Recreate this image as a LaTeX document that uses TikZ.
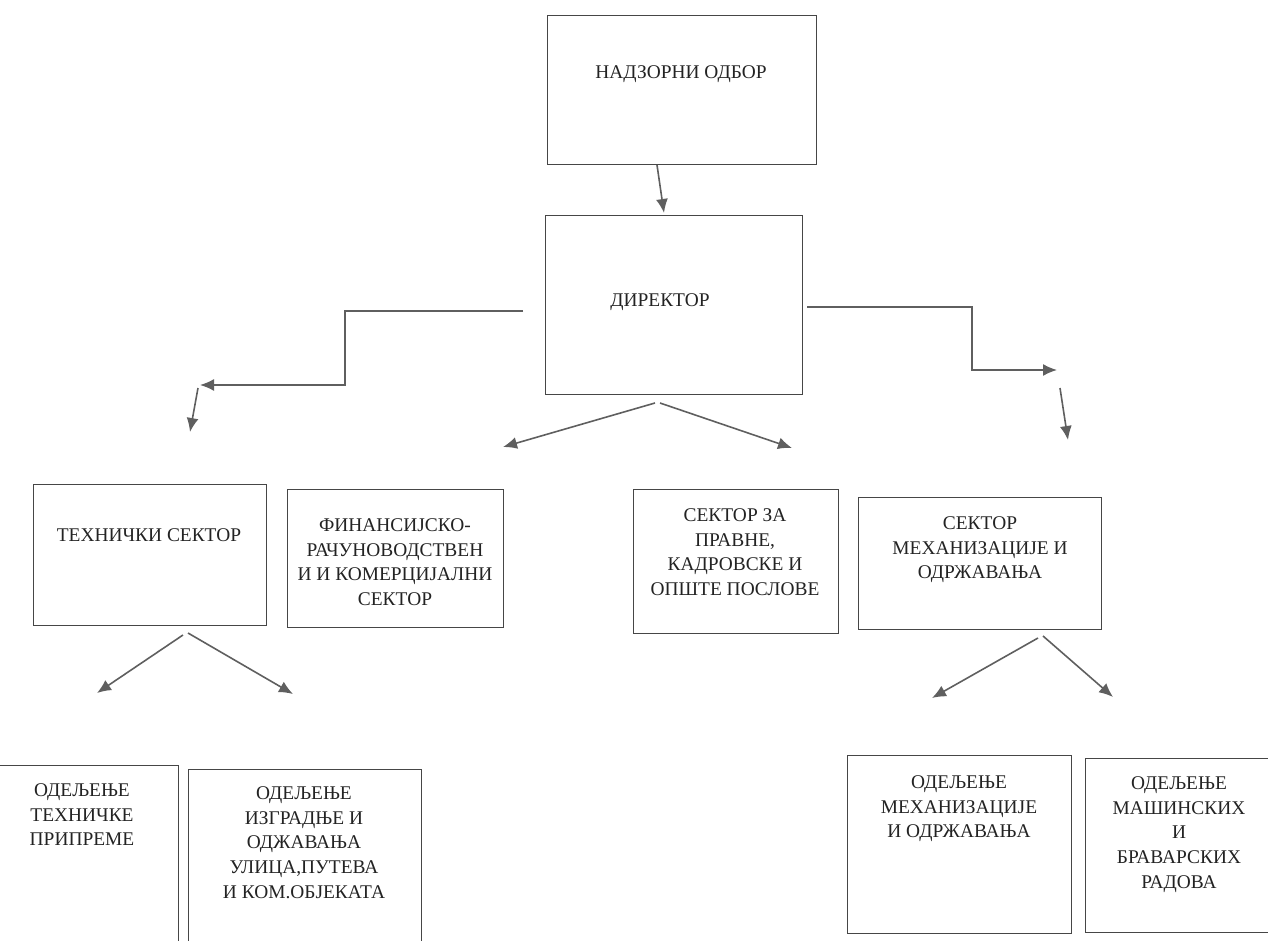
\documentclass[tikz,border=0pt]{standalone}
\usepackage{fontspec}
\setmainfont{Liberation Serif}
\usepackage{tikz}
\usetikzlibrary{positioning,arrows.meta}
\definecolor{boxColor}{RGB}{70,70,70}
\definecolor{lineColor}{RGB}{95,95,95}
\definecolor{textColor}{RGB}{35,35,35}
\newcommand{\px}{0.5pt}
\tikzstyle{chart} = [x = \px, y = -\px]
\tikzstyle{orgBoxStyle} = [draw=boxColor, line width=.7pt, rectangle, inner sep=0pt, anchor=north west]
\tikzstyle{orgText} = [font=\fontsize{9.7}{12.3}\selectfont, text=textColor, align=center, inner sep=0pt, anchor=north]
\tikzstyle{orgArrow} = [draw=lineColor, line width=.8pt, -{Latex[length=7pt, width=6pt]}]
\newcommand{\orgBox}[5]{\node [orgBoxStyle, minimum width=#4*\px, minimum height=#5*\px] (#1) at (#2,#3) {};}
\newcommand{\orgLabel}[4]{\node [orgText] (#1) at (#2,#3 - 6.5) {#4};}

\begin{document}
\begin{tikzpicture}[chart]
\useasboundingbox (0,0) rectangle (1268,941);
\clip (0,0) rectangle (1268,941);
\orgBox{board}{547}{15}{269}{149}
\orgBox{director}{545}{215}{257}{179}
\orgBox{tech}{33}{484}{233}{141}
\orgBox{finance}{287}{489}{216}{138}
\orgBox{legal}{633}{489}{205}{144}
\orgBox{mech}{858}{497}{243}{132}
\orgBox{techPrep}{-14}{765}{192}{200}
\orgBox{streets}{188}{769}{233}{200}
\orgBox{mechMaint}{847}{755}{224}{178}
\orgBox{locksmith}{1085}{758}{188}{174}
\orgLabel{boardText}{681}{72}{НАДЗОРНИ ОДБОР}
\orgLabel{directorText}{660}{300}{ДИРЕКТОР}
\orgLabel{techText}{149}{535}{ТЕХНИЧКИ СЕКТОР}
\orgLabel{financeText}{395}{525}{ФИНАНСИЈСКО-\\РАЧУНОВОДСТВЕН\\И И КОМЕРЦИЈАЛНИ\\СЕКТОР}
\orgLabel{legalText}{735}{515}{СЕКТОР ЗА\\ПРАВНЕ,\\КАДРОВСКЕ И\\ОПШТЕ ПОСЛОВЕ}
\orgLabel{mechText}{980}{523}{СЕКТОР\\МЕХАНИЗАЦИЈЕ И\\ОДРЖАВАЊА}
\orgLabel{techPrepText}{82}{790}{ОДЕЉЕЊЕ\\ТЕХНИЧКЕ\\ПРИПРЕМЕ}
\orgLabel{streetsText}{304}{793}{ОДЕЉЕЊЕ\\ИЗГРАДЊЕ И\\ОДЖАВАЊА\\УЛИЦА,ПУТЕВА\\И КОМ.ОБЈЕКАТА}
\orgLabel{mechMaintText}{959}{782}{ОДЕЉЕЊЕ\\МЕХАНИЗАЦИЈЕ\\И ОДРЖАВАЊА}
\orgLabel{locksmithText}{1179}{783}{ОДЕЉЕЊЕ\\МАШИНСКИХ\\И\\БРАВАРСКИХ\\РАДОВА}
\coordinate (boardOut) at (657,165);
\coordinate (directorIn) at (664,213);
\coordinate (leftOut) at (523,311);
\coordinate (leftStep) at (345,385);
\coordinate (leftTip) at (200,385);
\coordinate (leftDownA) at (198,388);
\coordinate (leftDownB) at (190,432);
\coordinate (rightOut) at (807,307);
\coordinate (rightStep) at (972,370);
\coordinate (rightTip) at (1057,370);
\coordinate (rightDownA) at (1060,388);
\coordinate (rightDownB) at (1068,440);
\coordinate (dirOutL) at (655,403);
\coordinate (dirOutR) at (660,403);
\coordinate (financeIn) at (503,447);
\coordinate (legalIn) at (792,448);
\coordinate (techOutL) at (183,635);
\coordinate (techOutR) at (188,633);
\coordinate (techPrepIn) at (97,693);
\coordinate (streetsIn) at (293,694);
\coordinate (mechOutL) at (1038,638);
\coordinate (mechOutR) at (1043,636);
\coordinate (mechMaintIn) at (932,698);
\coordinate (locksmithIn) at (1113,697);
\draw [orgArrow] (boardOut) -- (directorIn);
\draw [orgArrow] (leftOut) -- (leftOut -| leftStep) -- (leftStep) -- (leftTip);
\draw [orgArrow] (leftDownA) -- (leftDownB);
\draw [orgArrow] (rightOut) -- (rightOut -| rightStep) -- (rightStep) -- (rightTip);
\draw [orgArrow] (rightDownA) -- (rightDownB);
\draw [orgArrow] (dirOutL) -- (financeIn);
\draw [orgArrow] (dirOutR) -- (legalIn);
\draw [orgArrow] (techOutL) -- (techPrepIn);
\draw [orgArrow] (techOutR) -- (streetsIn);
\draw [orgArrow] (mechOutL) -- (mechMaintIn);
\draw [orgArrow] (mechOutR) -- (locksmithIn);
\end{tikzpicture}
\end{document}
